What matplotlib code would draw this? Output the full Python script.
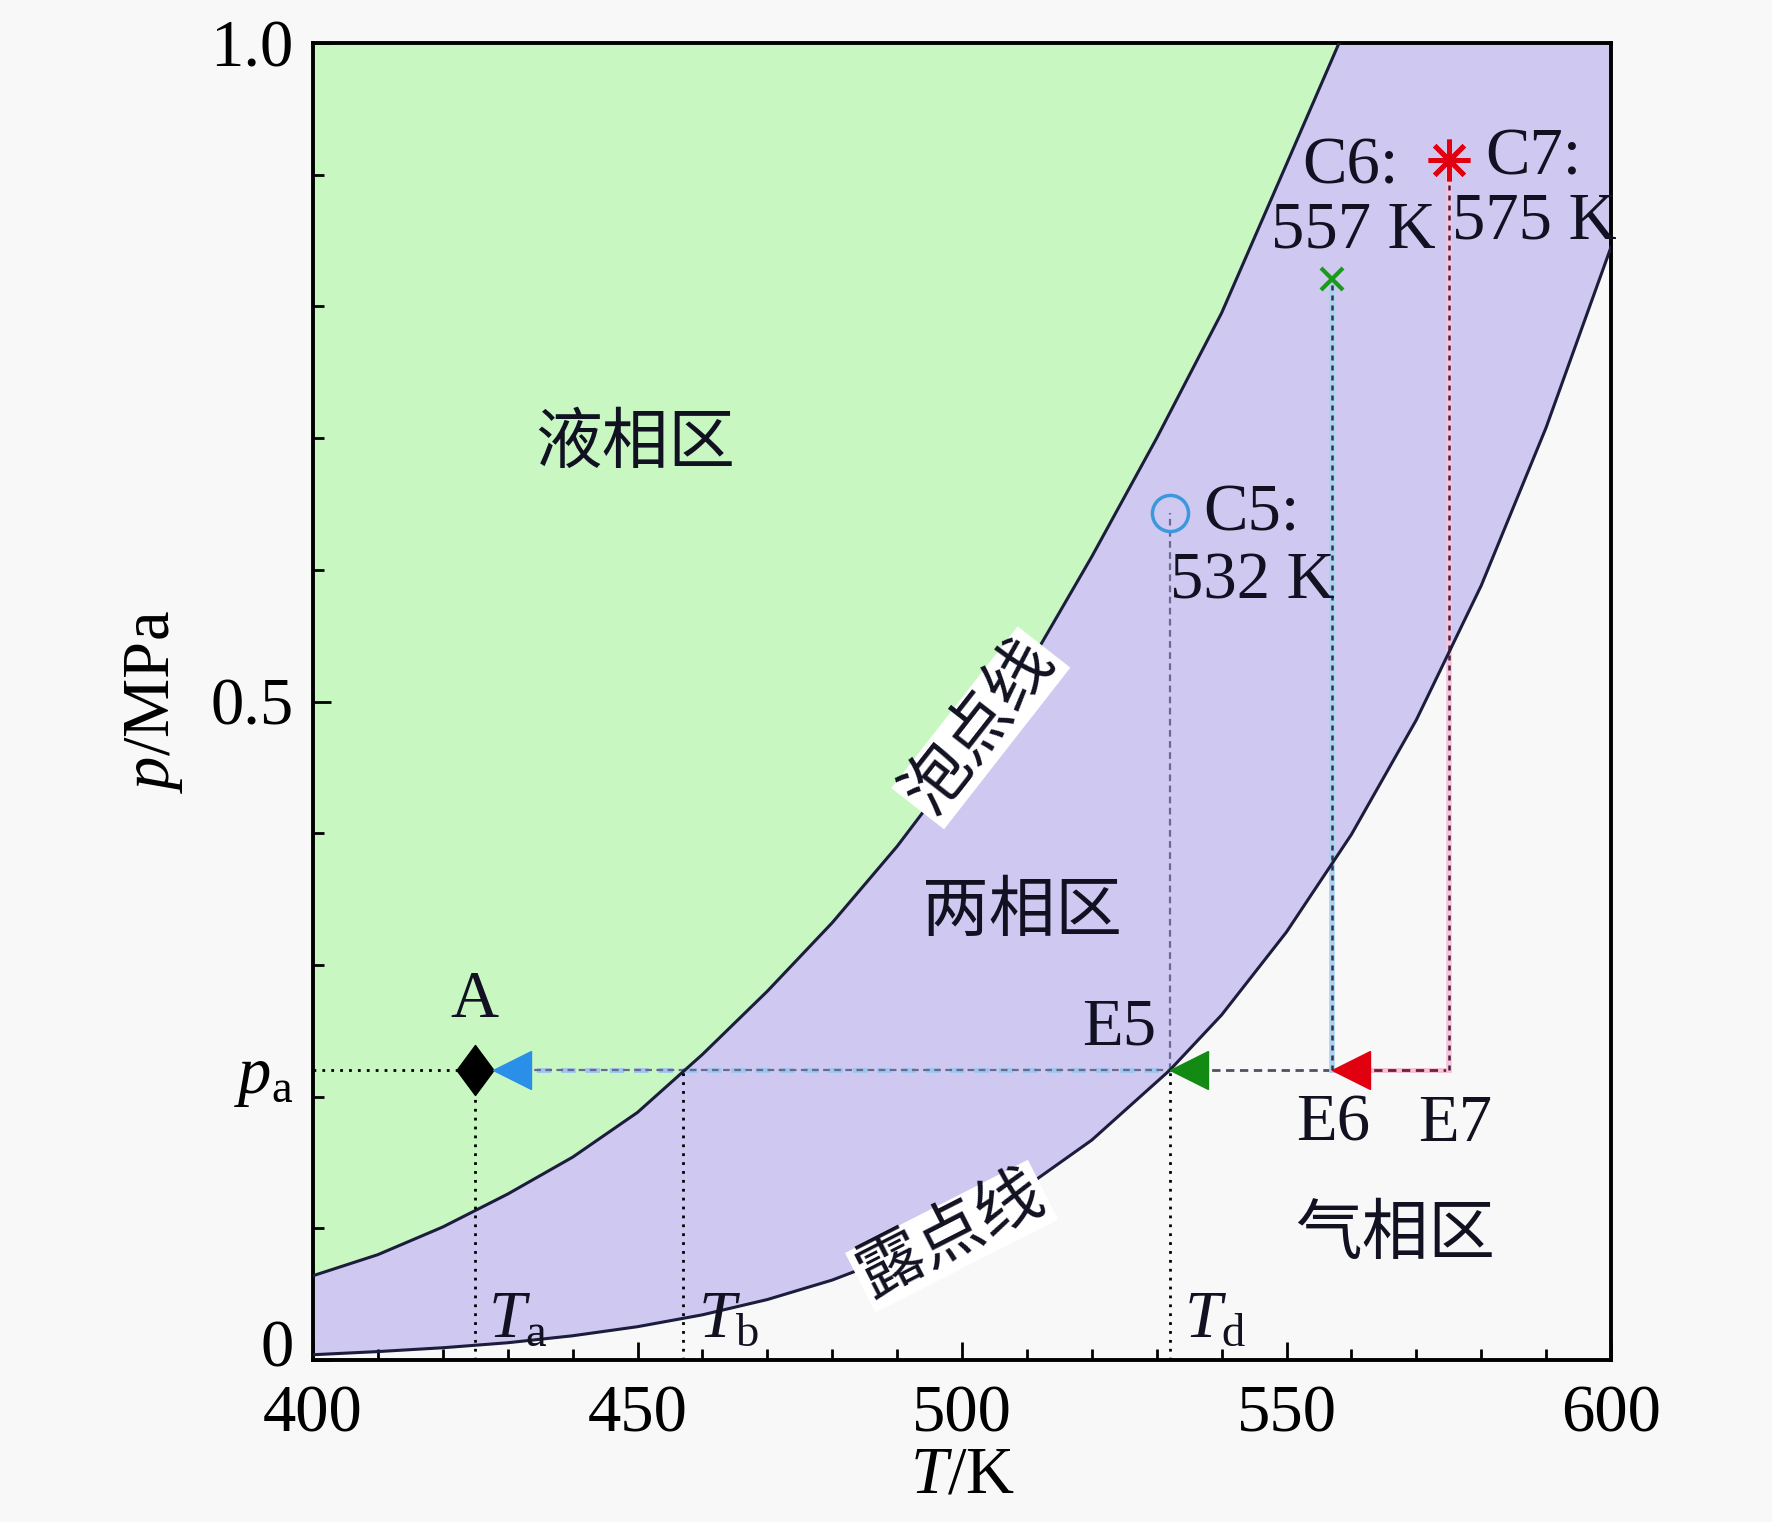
import numpy as np
import matplotlib
matplotlib.use("Agg")
import matplotlib.pyplot as plt
import matplotlib.transforms as mtransforms

plt.rcParams['font.family'] = ['Liberation Serif', 'Noto Sans CJK SC']
plt.rcParams['mathtext.fontset'] = 'custom'
plt.rcParams['mathtext.rm'] = 'Liberation Serif'
plt.rcParams['mathtext.it'] = 'Liberation Serif:italic'

# bubble point line (泡点线)
bubble_T = [400, 410, 420, 430, 440, 450, 460, 470, 480, 490, 500, 510,
            520, 530, 540, 550, 558.1]
bubble_p = [0.064, 0.080, 0.101, 0.126, 0.154, 0.188, 0.232, 0.280,
            0.332, 0.390, 0.455, 0.525, 0.610, 0.700, 0.795, 0.908, 1.0]

# dew point line (露点线)
dew_T = [400, 410, 420, 430, 440, 450, 460, 470, 480, 490, 500, 510, 520, 532,
         540, 550, 560, 570, 580, 590, 600]
dew_p = [0.004, 0.0064, 0.0093, 0.0131, 0.0184, 0.0253, 0.0343, 0.0459, 0.0607,
         0.0795, 0.103, 0.132, 0.167, 0.220, 0.262, 0.325, 0.399, 0.486, 0.588,
         0.708, 0.845]

p_a = 0.220
T_a, T_b, T_d = 425, 457, 532
crit_T = [532, 557, 575]            # C5, C6, C7
crit_p = [0.643, 0.821, 0.911]
arrow_T = [430.7, 535.0, 560.0]     # blue, green, red triangles

green = '#c8f7c2'
purple = '#cfc9f1'
bg = '#f8f8f8'
ink = '#111122'

fig = plt.figure(figsize=(17.72, 15.22), dpi=100, facecolor=bg)
ax = fig.add_axes([313 / 1772, 1 - 1360 / 1522, 1298 / 1772, 1317 / 1522])
ax.set_facecolor(bg)

# regions
ax.fill_between(dew_T, dew_p, 1.0, color=purple, lw=0, zorder=1)
ax.fill_between(bubble_T, bubble_p, 1.0, color=green, lw=0, zorder=1)
ax.plot(bubble_T, bubble_p, color='#1c1c3c', lw=2.2, zorder=3)
ax.plot(dew_T, dew_p, color='#1c1c3c', lw=2.2, zorder=3)

# guide lines
dot = (0, (1, 2.2))
ax.plot([400, T_a], [p_a, p_a], color='k', lw=2, ls=dot, zorder=4)
for t in [T_a, T_b, T_d]:
    ax.plot([t, t], [0, p_a], color='k', lw=2, ls=dot, zorder=4)

# horizontal path A <- E5
ax.plot([arrow_T[0], T_d], [p_a, p_a], color='#9cc6ee', lw=3.5, ls=(0, (3, 2)), zorder=2)
ax.plot([arrow_T[0], T_d], [p_a, p_a], color='#6a6a90', lw=1.6, ls=(0, (3, 2)), zorder=2)
# E5 <- E6, E6 <- E7
ax.plot([T_d, crit_T[1]], [p_a, p_a], color='#505060', lw=2, ls=(0, (3, 2)), zorder=2)
ax.plot([crit_T[1], crit_T[2]], [p_a, p_a], color='#f4c0d8', lw=3.5, zorder=2)
ax.plot([crit_T[1], crit_T[2]], [p_a, p_a], color='#702030', lw=2, ls=(0, (3, 2)), zorder=2)

# vertical lines from critical points
ax.plot([crit_T[0], crit_T[0]], [p_a, crit_p[0]], color='#6a6a90', lw=1.6, ls=(0, (3, 2)), zorder=2)
ax.plot([crit_T[1], crit_T[1]], [p_a, crit_p[1]], color='#a8d2f0', lw=4, zorder=2)
ax.plot([crit_T[1], crit_T[1]], [p_a, crit_p[1]], color='#33334a', lw=1.8, ls=(0, (2, 2)), zorder=2)
ax.plot([crit_T[2], crit_T[2]], [p_a, crit_p[2]], color='#f8c4dc', lw=4, zorder=2)
ax.plot([crit_T[2], crit_T[2]], [p_a, crit_p[2]], color='#502040', lw=1.8, ls=(0, (2, 2)), zorder=2)

# markers
diamond = [(-0.74, 0), (0, 1), (0.74, 0), (0, -1), (-0.74, 0)]
ax.plot(T_a, p_a, marker=diamond, ms=36, color='k', zorder=6)
ax.plot(arrow_T[0], p_a, marker='<', ms=27, color='#2a8fe8', zorder=6)
ax.plot(arrow_T[1], p_a, marker='<', ms=27, color='#138a13', zorder=6)
ax.plot(arrow_T[2], p_a, marker='<', ms=27, color='#e00010', zorder=6)
ax.plot(crit_T[0], crit_p[0], marker='o', ms=26, mfc='none', mec='#3c98dc', mew=2.5, zorder=6)
ax.plot(crit_T[1], crit_p[1], marker='x', ms=16, color='#1a9a1a', mew=3, zorder=6)
ax.plot(crit_T[2], crit_p[2], marker=(8, 2, 0), ms=30, color='#e00010', mew=3.5, zorder=6)

# region labels
fs = 48
ax.text(449.6, 0.694, '液相区', fontsize=fs, ha='center', va='center', color=ink, zorder=7)
ax.text(509.3, 0.338, '两相区', fontsize=fs, ha='center', va='center', color=ink, zorder=7)
ax.text(566.8, 0.093, '气相区', fontsize=fs, ha='center', va='center', color=ink, zorder=7)
box = dict(facecolor='white', edgecolor='none', pad=2)
ax.text(502.9, 0.480, '泡点线', fontsize=fs, ha='center', va='center', rotation=52,
        rotation_mode='anchor', color=ink, bbox=box, zorder=7)
ax.text(498.4, 0.094, '露点线', fontsize=fs, ha='center', va='center', rotation=27,
        rotation_mode='anchor', color=ink, bbox=box, zorder=7)

# point labels
ax.text(424.9, 0.273, 'A', fontsize=fs, ha='center', va='center', color=ink, zorder=7)
ax.text(524.2, 0.252, 'E5', fontsize=fs, ha='center', va='center', color=ink, zorder=7)
ax.text(557.2, 0.179, 'E6', fontsize=fs, ha='center', va='center', color=ink, zorder=7)
ax.text(576.0, 0.179, 'E7', fontsize=fs, ha='center', va='center', color=ink, zorder=7)
ax.text(537.1, 0.642, 'C5:', fontsize=fs, ha='left', va='center', color=ink, zorder=7)
ax.text(532.0, 0.591, '532 K', fontsize=fs, ha='left', va='center', color=ink, zorder=7)
ax.text(552.5, 0.906, 'C6:', fontsize=fs, ha='left', va='center', color=ink, zorder=7)
ax.text(547.6, 0.857, '557 K', fontsize=fs, ha='left', va='center', color=ink, zorder=7)
ax.text(580.7, 0.913, 'C7:', fontsize=fs, ha='left', va='center', color=ink, zorder=7)
ax.text(575.5, 0.864, '575 K', fontsize=fs, ha='left', va='center', color=ink, zorder=7)
ax.text(427.0, 0.030, r'$T_\mathrm{a}$', fontsize=fs, ha='left', va='center', color=ink, zorder=7)
ax.text(459.3, 0.030, r'$T_\mathrm{b}$', fontsize=fs, ha='left', va='center', color=ink, zorder=7)
ax.text(534.2, 0.030, r'$T_\mathrm{d}$', fontsize=fs, ha='left', va='center', color=ink, zorder=7)

# axes
ax.set_xlim(400, 600)
ax.set_ylim(0, 1.0)
ax.set_xticks([400, 450, 500, 550, 600])
ax.set_xticks(np.arange(400, 601, 10), minor=True)
ax.set_yticks([0, p_a, 0.5, 1.0])
ax.set_yticklabels(['0', r'$p_\mathrm{a}$', '0.5', '1.0'])
ax.set_yticks(np.arange(0, 1.01, 0.1), minor=True)
ax.tick_params(axis='both', which='major', direction='in', length=13, width=2,
               labelsize=48, pad=14)
ax.tick_params(axis='x', which='major', pad=18)
ax.tick_params(axis='both', which='minor', direction='in', length=8, width=2)
ax.yaxis.get_major_ticks()[1].tick1line.set_visible(False)
# lift the "0" so it clears the "400" below it
zero_lbl = ax.yaxis.get_major_ticks()[0].label1
zero_lbl.set_transform(zero_lbl.get_transform() +
                       mtransforms.ScaledTranslation(0, 12 / 72, fig.dpi_scale_trans))
for s in ax.spines.values():
    s.set_linewidth(2.8)
ax.set_xlabel(r'$T$/K', fontsize=48, labelpad=0)
ax.set_ylabel(r'$p$/MPa', fontsize=48, labelpad=18)

fig.savefig('out.png', dpi=100, facecolor=bg)
